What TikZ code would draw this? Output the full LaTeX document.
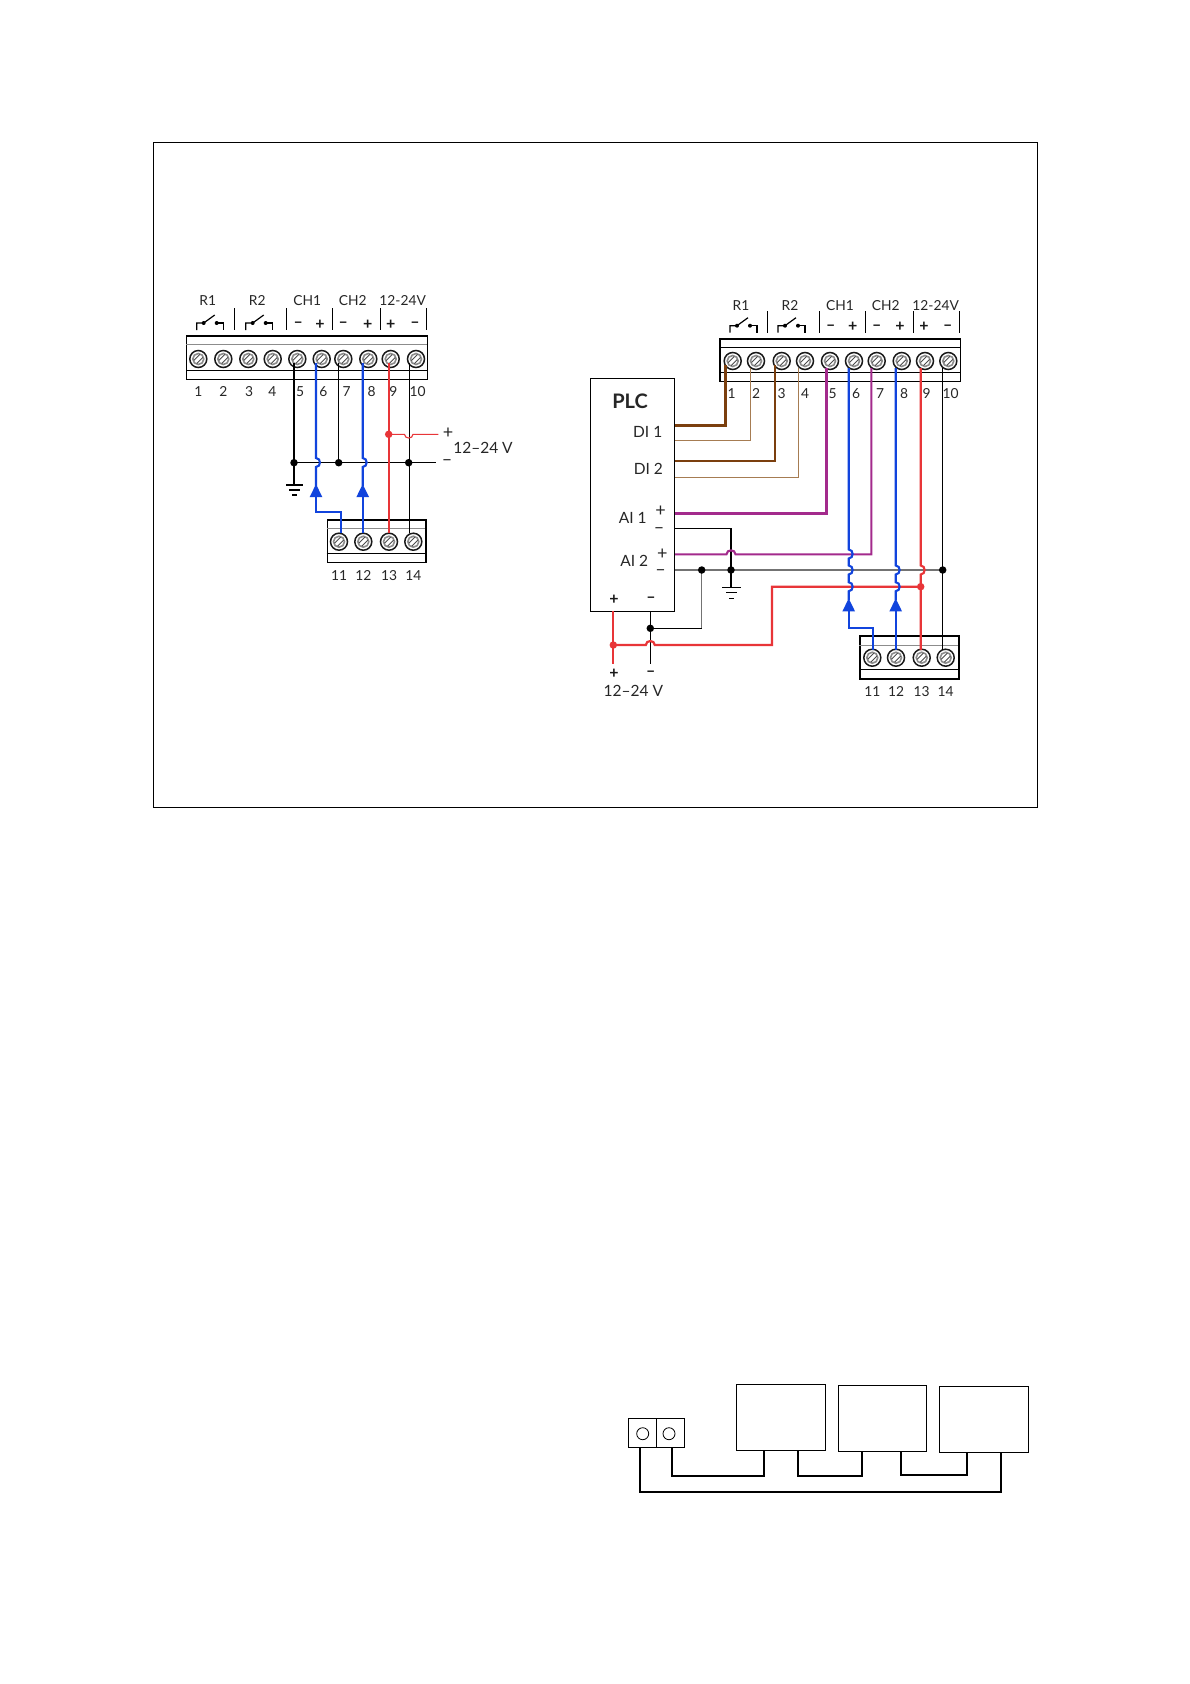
\documentclass[tikz,border=0pt]{standalone}
\usepackage{fontspec}
\setmainfont{Lato}
\usepackage{tikz}
\usetikzlibrary{arrows.meta}
\definecolor{wireblue}{HTML}{1144DD}
\definecolor{wirered}{HTML}{E83538}
\definecolor{wirepurple}{HTML}{A32A8C}
\definecolor{wirebrown}{HTML}{7B3F0E}
\definecolor{wiretan}{HTML}{A67C52}
\definecolor{screwgrey}{HTML}{8C8C8C}
\tikzset{%
    >={Triangle[length=13pt,width=12pt]},
    thinwire/.style={line width=1.1pt},
    thickwire/.style={line width=2.5pt},
    hopr/.style={out=0,in=0,looseness=1.5},
    hopu/.style={out=90,in=90,looseness=1.5},
    hopd/.style={out=-90,in=-90,looseness=1.5},
    lab/.style={inner sep=0pt,text height=10pt,text depth=0pt,font=\fontsize{13.8}{15}\selectfont,text=black!85},
    plclab/.style={inner sep=0pt,text height=11pt,text depth=0pt,font=\fontsize{15.5}{17}\selectfont,text=black!85},
    sign/.style={inner sep=0pt,font=\fontsize{16}{17}\selectfont,text=black!90},
    bigsign/.style={inner sep=0pt,font=\fontsize{18}{19}\selectfont,text=black!85},
    blockbox/.style={draw,line width=1.3pt,inner sep=0pt},
    unitbox/.style={draw,line width=1pt,inner sep=0pt},
    joint/.style={circle,fill=black,inner sep=0pt,minimum size=7.5pt},
    jointred/.style={circle,fill=wirered,inner sep=0pt,minimum size=7.5pt},
    screw/.style={circle,draw=black!90,fill=white,line width=1.5pt,inner sep=0pt,minimum size=17pt,
        path picture={
            \draw[screwgrey,line width=1.6pt] (path picture bounding box.center) circle[radius=5.5pt];
            \draw[black!70,line width=0.9pt] ([xshift=-4.5pt,yshift=-1.5pt]path picture bounding box.center) -- ([xshift=1.5pt,yshift=4.5pt]path picture bounding box.center);
            \draw[black!70,line width=0.9pt] ([xshift=-1.5pt,yshift=-4.5pt]path picture bounding box.center) -- ([xshift=4.5pt,yshift=1.5pt]path picture bounding box.center);
        }}
}
\begin{document}
\begin{tikzpicture}[x=1pt,y=-1pt]
    \useasboundingbox (0,0) rectangle (1190,1684);
    \fill[white] (0,0) rectangle (1190,1684);
    \draw[line width=1pt] (153.3,142.3) rectangle (1037.3,807.3);

    % relays
    \foreach \rx/\ry in {196.7/330,245.7/330,730/332.7,778/332.7}{
        \draw[line width=1.2pt] (\rx,\ry) -- (\rx,\ry-7) -- (\rx+7,\ry-7) -- (\rx+18,\ry-15);
        \draw[line width=1.2pt] (\rx+20,\ry-7) -- (\rx+27,\ry-7) -- (\rx+27,\ry);
        \fill (\rx+7,\ry-7) circle[radius=2pt] (\rx+20,\ry-7) circle[radius=2pt];
    }

    % left strip
    \node[blockbox,minimum width=240.6pt,minimum height=43.3pt] (leftstrip) at (307,357.7) {};
    \draw[screwgrey,line width=1.5pt] (leftstrip.north west) ++(0,9.3) -- ++(240.6,0);
    \draw[line width=1pt] (leftstrip.south west) ++(0,-10) -- ++(240.6,0);
    \foreach \n/\sx in {1/198.3,2/223.3,3/248.3,4/272.7,5/297.3,6/321.7,7/343.3,8/368.3,9/390.7,10/416}
        \node[screw] (ls\n) at (\sx,359) {};
    \foreach \n/\sx in {1/198.3,2/223.3,3/249,4/272.3,5/300,6/323.3,7/346.7,8/371.7,9/393.3,10/417.7}
        \node[lab] (ln\n) at (\sx,391.7) {\n};
    \foreach \n/\sx/\txt in {a/207.7/R1,b/257.3/R2,c/307.3/CH1,d/352.7/CH2,e/402.7/12-24V}
        \node[lab] (lh\n) at (\sx,300.7) {\txt};
    \foreach \sx in {234.3,286.7,332.3,380.7,426.7}
        \draw[line width=0.6pt] (\sx,308) -- (\sx,330);
    \foreach \n/\sx/\txt in {a/298.3/--,b/320/+,c/343.3/--,d/367.7/+,e/390.7/+,f/415/--}
        \node[sign] (lp\n) at (\sx,325) {\textbf{\txt}};

    % left lower strip
    \node[blockbox,minimum width=98.7pt,minimum height=42.7pt] (leftlow) at (376.7,541.3) {};
    \draw[screwgrey,line width=1pt] (leftlow.north west) ++(0,9.3) -- ++(98.7,0);
    \draw[line width=1pt] (leftlow.south west) ++(0,-9.4) -- ++(98.7,0);
    \foreach \n/\sx in {11/339,12/363.3,13/389,14/413.3}{
        \node[screw] (lb\n) at (\sx,541.7) {};
        \node[lab] (lc\n) at (\sx,575) {\n};
    }

    % left wires
    \coordinate (gndl) at (294,485);
    \coordinate (busl) at (294,462.7);
    \coordinate (busle) at (436,462.7);
    \coordinate (redl) at (388.7,434.3);
    \coordinate (redle) at (438.3,434.3);
    \node[bigsign] (lplus) at (448,433) {+};
    \node[bigsign] (lminus) at (447,463) {--};
    \node[plclab] (lvolt) at (483,447.7) {12–24 V};
    \draw[thinwire] (busl) -- (busle);
    \draw[thinwire] (294,363) -- (gndl);
    \draw[thinwire] (338.7,363) -- (338.7,462.7);
    \draw[thinwire] (409.3,363) -- (409.3,533);
    \draw[line width=1.2pt] (286,485) -- (303.3,485) (289,490) -- (300,490);
    \draw[line width=1.5pt] (292,495) -- (297,495);
    \node[joint] (jl1) at (294,462.7) {};
    \node[joint] (jl2) at (338.7,462.7) {};
    \node[joint] (jl3) at (408.7,462.7) {};
    \draw[wirered,line width=1.8pt] (388.7,363) -- (388.7,533);
    \draw[wirered,thinwire] (redl) -- (404.5,434.3) to[hopd] (413,434.3) -- (redle);
    \node[jointred] (jl4) at (redl) {};
    \draw[wireblue,line width=2.1pt] (316,363) -- (316,458) to[hopr] (316,467) -- (316,486);
    \draw[wireblue,line width=2.1pt,->] (340.7,533) -- (340.7,511.7) -| (316,484);
    \draw[wireblue,line width=2.1pt] (362.7,363) -- (362.7,458) to[hopr] (362.7,467) -- (362.7,486);
    \draw[wireblue,line width=2.1pt,->] (362.7,533) -- (362.7,484);

    % right strip
    \node[blockbox,minimum width=240.3pt,minimum height=42.7pt] (rightstrip) at (840.2,360.3) {};
    \draw[line width=1pt] (rightstrip.north west) ++(0,9.3) -- ++(240.3,0);
    \draw[line width=1pt] (rightstrip.south west) ++(0,-10) -- ++(240.3,0);
    \foreach \n/\sx in {1/732.7,2/756,3/781.7,4/805,5/830,6/854,7/876.7,8/901.7,9/925,10/948.3}
        \node[screw] (rs\n) at (\sx,361) {};
    \foreach \n/\sx in {1/731.7,2/756,3/781.7,4/805,5/832.7,6/856,7/880,8/904,9/926.7,10/950.7}
        \node[lab] (rn\n) at (\sx,393.3) {\n};
    \foreach \n/\sx/\txt in {a/741/R1,b/790/R2,c/840/CH1,d/885.7/CH2,e/935.7/12-24V}
        \node[lab] (rh\n) at (\sx,305) {\txt};
    \foreach \sx in {767.3,819.3,865.3,913.3,959.3}
        \draw[line width=0.6pt] (\sx,311) -- (\sx,333.3);
    \foreach \n/\sx/\txt in {a/830.7/--,b/852.7/+,c/876.7/--,d/900/+,e/924/+,f/947.7/--}
        \node[sign] (rp\n) at (\sx,327.3) {\textbf{\txt}};

    % right lower strip
    \node[blockbox,minimum width=99pt,minimum height=43pt] (rightlow) at (909.5,657.5) {};
    \draw[screwgrey,line width=1pt] (rightlow.north west) ++(0,9.7) -- ++(99,0);
    \draw[line width=1pt] (rightlow.south west) ++(0,-9.7) -- ++(99,0);
    \foreach \n/\sx in {11/872.3,12/896,13/921.7,14/945.7}{
        \node[screw] (rb\n) at (\sx,657.7) {};
        \node[lab] (rc\n) at (\sx,691) {\n};
    }

    % plc
    \node[draw,line width=0.9pt,inner sep=0pt,minimum width=84.7pt,minimum height=232.7pt] (plc) at (632.3,494.7) {};
    \node[inner sep=0pt,font=\fontsize{20}{22}\selectfont,text=black!85] (plcname) at (630,401) {\textbf{PLC}};
    \node[plclab] (di1) at (647.7,432.3) {DI 1};
    \node[plclab] (di2) at (648.3,469) {DI 2};
    \node[plclab] (ai1) at (632.7,518.3) {AI 1};
    \node[plclab] (ai2) at (634.3,561) {AI 2};
    \node[bigsign] (ai1p) at (660.7,511.5) {+};
    \node[bigsign] (ai1m) at (659,530.5) {--};
    \node[bigsign] (ai2p) at (662.3,554) {+};
    \node[bigsign] (ai2m) at (660.7,572.5) {--};
    \node[sign] (plcp) at (614,600) {\textbf{+}};
    \node[sign] (plcm) at (651,600) {\textbf{--}};
    \node[sign] (rplus) at (614,674) {\textbf{+}};
    \node[sign] (rminus) at (650.7,674) {\textbf{--}};
    \node[plclab] (rvolt) at (633.3,691) {12–24 V};

    % brown wires
    \draw[wirebrown,thickwire] (plc.east |- 0,425.7) -| (725.3,365);
    \draw[wiretan,line width=1.3pt] (plc.east |- 0,440.7) -| (750.7,368);
    \draw[wirebrown,line width=2pt] (plc.east |- 0,460.7) -| (775,365);
    \draw[wiretan,line width=1.3pt] (plc.east |- 0,477.3) -| (798.3,368);

    % grey and black wires
    \draw[black!55,line width=1.1pt] (plc.east |- 0,570) -- (942.7,570);
    \draw[black!55,line width=1.5pt] (701.7,570) -- (701.7,628.3);
    \draw[thinwire] (701.7,628.3) -- (650.3,628.3);
    \draw[thinwire] (plc.east |- 0,528.3) -| (731,570);
    \draw[thinwire] (731,570) -- (731,587.3);
    \draw[thinwire] (650.3,611) -- (650.3,664.3);
    \draw[thinwire] (942.7,368) -- (942.7,650);
    \draw[line width=1.2pt] (722,587.3) -- (741.3,587.3) (726,592.7) -- (737.3,592.7);
    \draw[line width=1.5pt] (729,598.3) -- (734,598.3);
    \node[joint] (jr1) at (701.7,570) {};
    \node[joint] (jr2) at (731,570) {};
    \node[joint] (jr3) at (942.7,570) {};
    \node[joint] (jr4) at (650.3,628.3) {};

    % purple wires
    \draw[wirepurple,thickwire] (plc.east |- 0,513.3) -| (826.7,368);
    \draw[wirepurple,line width=2.1pt] (plc.east |- 0,554.3) -- (726.5,554.3) to[hopu] (735.5,554.3) -- (871.3,554.3) -- (871.3,368);

    % red wires
    \draw[wirered,line width=2.2pt] (613.3,611) -- (613.3,664.3);
    \draw[wirered,line width=2.2pt] (613.3,645) -- (645.8,645) to[hopu] (654.8,645) -- (772,645) -- (772,586.7) -- (920.7,586.7);
    \draw[wirered,line width=2.1pt] (920.7,368) -- (920.7,565.5) to[hopr] (920.7,574.5) -- (920.7,650);
    \node[jointred] (jr5) at (613.3,645) {};
    \node[jointred] (jr6) at (920.7,586.7) {};

    % blue wires
    \draw[wireblue,line width=2.1pt] (848.7,368) -- (848.7,549.5) to[hopr] (848.7,558.5) -- (848.7,565.5) to[hopr] (848.7,574.5) -- (848.7,582.2) to[hopr] (848.7,591.2) -- (848.7,600);
    \draw[wireblue,line width=2.1pt,->] (873.3,650) -- (873.3,627.7) -| (848.7,598.3);
    \draw[wireblue,line width=2.1pt] (895.7,368) -- (895.7,565.5) to[hopr] (895.7,574.5) -- (895.7,582.2) to[hopr] (895.7,591.2) -- (895.7,600);
    \draw[wireblue,line width=2.1pt,->] (895.7,650) -- (895.7,598.3);

    % chain of units
    \node[unitbox,minimum width=89pt,minimum height=66pt] (unita) at (780.8,1417.3) {};
    \node[unitbox,minimum width=88pt,minimum height=66pt] (unitb) at (882.3,1418.3) {};
    \node[unitbox,minimum width=89pt,minimum height=66pt] (unitc) at (983.8,1419.3) {};
    \node[unitbox,minimum width=28pt,minimum height=29pt] (cona) at (642.3,1432.8) {};
    \node[unitbox,minimum width=28pt,minimum height=29pt] (conb) at (670.3,1432.8) {};
    \node[draw,circle,line width=0.8pt,inner sep=0pt,minimum size=12pt] (cira) at (642.7,1433.7) {};
    \node[draw,circle,line width=0.8pt,inner sep=0pt,minimum size=12pt] (cirb) at (669,1433.7) {};
    \coordinate (pa) at (640,1447.3);
    \coordinate (pb) at (671.7,1447.3);
    \coordinate (ua1) at (764,1450.3);
    \coordinate (ua2) at (798,1450.3);
    \coordinate (ub1) at (862,1451.3);
    \coordinate (ub2) at (901,1451.3);
    \coordinate (uc1) at (967,1452.3);
    \coordinate (uc2) at (1001,1452.3);
    \draw[line width=1.7pt] (pb) -- ++(0,28.7) -| (ua1);
    \draw[line width=1.7pt] (ua2) -- ++(0,25.7) -| (ub1);
    \draw[line width=1.7pt] (ub2) -- ++(0,23.4) -| (uc1);
    \draw[line width=1.7pt] (pa) -- ++(0,44.4) -| (uc2);
\end{tikzpicture}
\end{document}
